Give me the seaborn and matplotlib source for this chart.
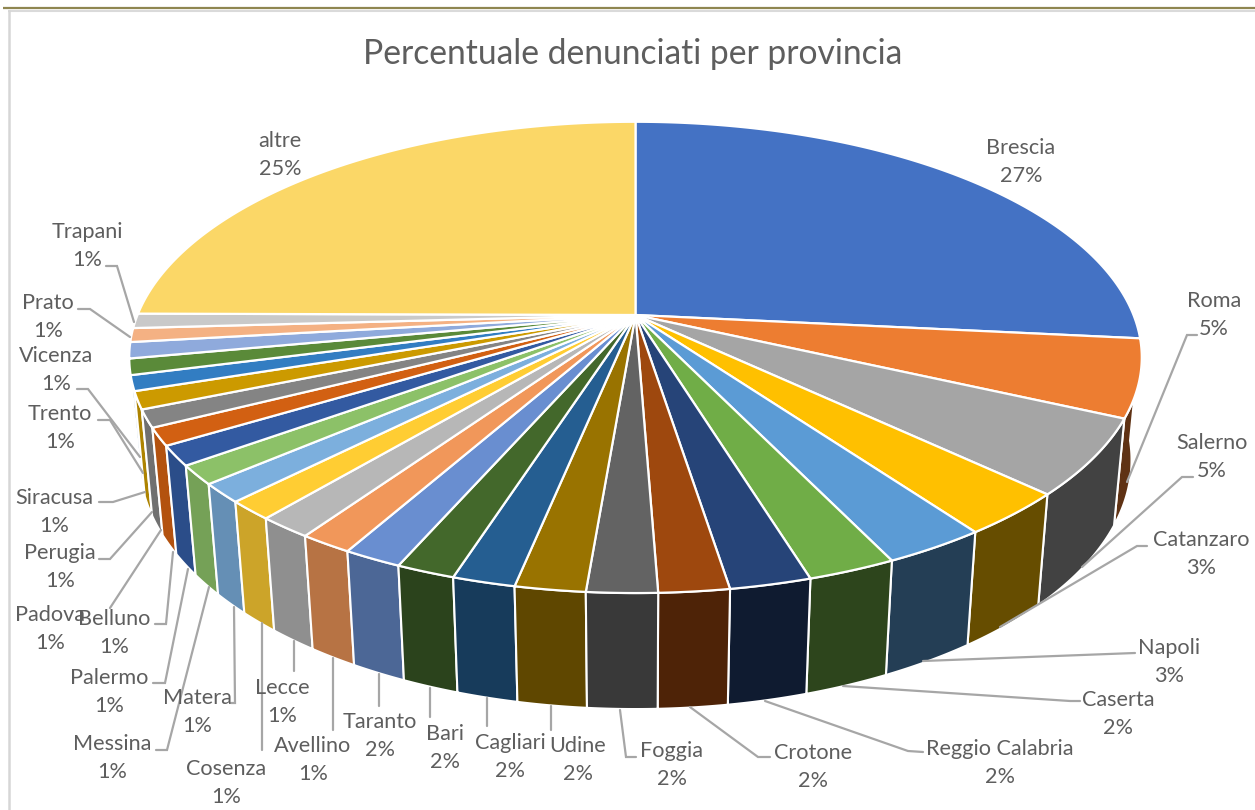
import numpy as np
import matplotlib
matplotlib.use("Agg")
import matplotlib.pyplot as plt
import seaborn as sns

# Share of people reported, by province (clockwise from twelve o'clock)
provinces = ["Brescia", "Roma", "Salerno", "Catanzaro", "Napoli", "Caserta",
             "Reggio Calabria", "Crotone", "Foggia", "Udine", "Cagliari", "Bari",
             "Taranto", "Avellino", "Lecce", "Cosenza", "Matera", "Messina",
             "Palermo", "Belluno", "Padova", "Perugia", "Siracusa", "Trento",
             "Vicenza", "Prato", "Trapani", "altre"]
percent = [26.6, 5.3, 5.2, 3.0, 2.8, 2.4,
           2.2, 1.9, 1.9, 1.9, 1.7, 1.6,
           1.6, 1.45, 1.49, 1.3, 1.3, 1.3,
           1.35, 1.2, 1.2, 1.2, 1.05, 1.1,
           1.1, 0.95, 1.0, 24.9]

slice_colors = ["#4472C4", "#ED7D31", "#A5A5A5", "#FFC000", "#5B9BD5", "#70AD47",
                "#264478", "#9E480E", "#636363", "#997300", "#255E91", "#43682B",
                "#698ED0", "#F1975A", "#B7B7B7", "#FFCD33", "#7CAFDD", "#8CC168",
                "#335AA1", "#D26012", "#848484", "#CC9A00", "#327DC2", "#5A8A39",
                "#8FAADC", "#F4B183", "#C9C9C9", "#FBD767"]

# Label placement in pixels: x centre and y centre of the name line
label_xy = {
    "Brescia": (1021, 146), "Roma": (1214, 299), "Salerno": (1212, 441),
    "Catanzaro": (1201, 538), "Napoli": (1169, 646), "Caserta": (1118, 698),
    "Reggio Calabria": (1000, 747), "Crotone": (813, 751), "Foggia": (672, 749),
    "Udine": (578, 744), "Cagliari": (510, 741), "Bari": (445, 732),
    "Taranto": (380, 720), "Avellino": (313, 744), "Lecce": (282, 686),
    "Cosenza": (226, 767), "Matera": (197, 696), "Messina": (112, 742),
    "Palermo": (109, 676), "Belluno": (114, 617), "Padova": (50, 613),
    "Perugia": (60, 551), "Siracusa": (54, 496), "Trento": (60, 412),
    "Vicenza": (56, 354), "Prato": (48, 301), "Trapani": (87, 230),
    "altre": (280, 139),
}

# Leader line routes in pixels
leader_routes = {
    "Roma": [(1197, 335), (1187, 335), (1127, 482)],
    "Salerno": [(1193, 477), (1182, 477), (1082, 567)],
    "Catanzaro": [(1147, 546), (1137, 546), (1000, 627)],
    "Napoli": [(1135, 653), (923, 661)],
    "Caserta": [(1080, 701), (1070, 701), (843, 686)],
    "Reggio Calabria": [(923, 752), (908, 751), (765, 701)],
    "Crotone": [(770, 757), (758, 757), (690, 707)],
    "Foggia": [(636, 757), (626, 757), (620, 710)],
    "Udine": [(551, 706), (551, 730)],
    "Cagliari": [(487, 698), (487, 726)],
    "Bari": [(430, 688), (430, 717)],
    "Taranto": [(379, 674), (379, 706)],
    "Avellino": [(333, 658), (333, 730)],
    "Lecce": [(294, 641), (294, 671)],
    "Cosenza": [(262, 623), (262, 750)],
    "Matera": [(234, 607), (235, 703), (231, 703)],
    "Messina": [(156, 750), (167, 750), (209, 587)],
    "Palermo": [(153, 683), (165, 683), (188, 569)],
    "Belluno": [(155, 624), (166, 624), (173, 552)],
    "Padova": [(110, 608), (161, 530)],
    "Perugia": [(99, 559), (110, 559), (152, 512)],
    "Siracusa": [(99, 502), (113, 502), (145, 492)],
    "Trento": [(98, 420), (110, 420), (143, 473)],
    "Vicenza": [(77, 389), (88, 389), (140, 457)],
    "Prato": [(78, 309), (90, 309), (130, 337)],
    "Trapani": [(106, 266), (117, 266), (134, 322)],
}

# Perspective of the disc: pivot, radii, tilt, thickness
CX, CY = 635.5, 315.0
RX, RY = 498.0, 228.0
TILT = 0.18
THICK = 103.0
DEPTH = 0.02

TEXT = "#5E5E5E"
LEADER = "#A6A6A6"


def project(theta, lower=False):
    """Clockwise angle from the top (radians) to pixel coordinates."""
    x, y = np.sin(theta), np.cos(theta)
    w = 1 + TILT * y + (DEPTH if lower else 0.0)
    drop = THICK if lower else 0.0
    return CX + RX * x / w, CY + (drop - RY * y) / w


def wall_shade(theta_deg):
    """Side walls are lit from the left and fall dark towards the right."""
    return np.interp(theta_deg,
                     [167, 175, 181, 188, 200, 206, 212, 222, 235],
                     [0.40, 0.50, 0.57, 0.62, 0.64, 0.72, 0.76, 0.80, 0.85])


sns.set_theme(style="white")
plt.rcParams["font.family"] = ["Lato", "DejaVu Sans"]
palette = sns.color_palette(slice_colors)

fig = plt.figure(figsize=(12.55, 8.10), dpi=100, facecolor="white")
ax = fig.add_axes([0, 0, 1, 1])
ax.set_xlim(0, 1255)
ax.set_ylim(810, 0)
ax.axis("off")

values = np.asarray(percent, dtype=float)
edges = np.concatenate([[0.0], np.cumsum(values)]) / values.sum() * 2 * np.pi
spans = list(zip(edges[:-1], edges[1:]))

# Side walls, painted from the back of the disc to the front
order = sorted(range(len(spans)),
               key=lambda i: -abs(np.degrees(sum(spans[i]) / 2) - 180))
for i in order:
    a, b = spans[i]
    arc = np.linspace(a, b, 60)
    ux, uy = project(arc)
    lx, ly = project(arc[::-1], lower=True)
    shade = wall_shade(np.degrees((a + b) / 2))
    ax.fill(np.r_[ux, lx], np.r_[uy, ly],
            color=np.array(palette[i]) * shade,
            ec="white", lw=1.5, joinstyle="round", zorder=2)

# Top face
for i, (a, b) in enumerate(spans):
    arc = np.linspace(a, b, 120)
    ux, uy = project(arc)
    ax.fill(np.r_[CX, ux], np.r_[CY, uy], fc=palette[i],
            ec="white", lw=1.6, joinstyle="round", zorder=3)

# Leader lines
for route in leader_routes.values():
    xs, ys = zip(*route)
    ax.plot(xs, ys, color=LEADER, lw=1.6, solid_joinstyle="miter", zorder=4)

# Two-line data labels
for name, value in zip(provinces, percent):
    x, y = label_xy[name]
    ax.text(x, y + 8, name, ha="center", va="baseline", fontsize=15.6,
            color=TEXT, zorder=5)
    ax.text(x, y + 36, f"{value:.0f}%", ha="center", va="baseline", fontsize=15.6,
            color=TEXT, zorder=5)

ax.text(633, 64, "Percentuale denunciati per provincia", ha="center", va="baseline",
        fontsize=24.2, color=TEXT, zorder=5)

# Chart frame
ax.plot([3, 1255], [8, 8], color="#8F8650", lw=1.6, solid_capstyle="butt", zorder=6)
ax.plot([8, 1255], [10.5, 10.5], color="#DADADA", lw=1.5, solid_capstyle="butt", zorder=5)
ax.plot([8.5, 8.5], [10, 810], color="#D6D6D6", lw=1.8, solid_capstyle="butt", zorder=5)

fig.savefig("out.png", dpi=100, facecolor="white")
